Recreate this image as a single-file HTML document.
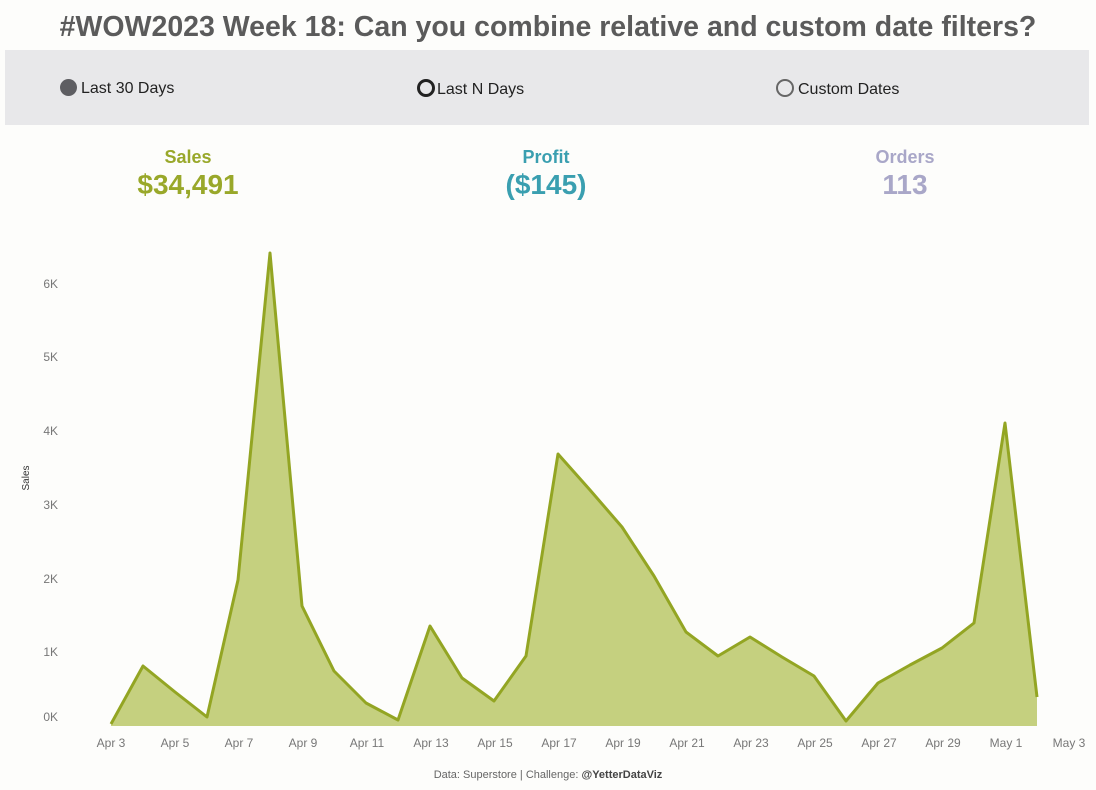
<!DOCTYPE html>
<html><head><meta charset="utf-8"><style>
body{margin:0;width:1096px;height:790px;background:#fdfdfb;font-family:"Liberation Sans",sans-serif;position:relative;overflow:hidden}
.t{position:absolute;left:0;width:1096px;text-align:center;top:11px;font-size:28.5px;font-weight:bold;color:#5b5b5b}
.panel{position:absolute;left:5px;top:50px;width:1084px;height:75px;background:#e8e8ea}
.r{position:absolute;top:79px;font-size:16px;color:#222}
.dot{display:inline-block;width:14px;height:14px;border-radius:50%;vertical-align:-2px;margin-right:4px;box-sizing:border-box}
.k{position:absolute;text-align:center;width:240px}
.k .a{font-size:18px;font-weight:bold}
.k .b{font-size:28px;font-weight:bold;margin-top:1px}
</style></head><body>
<div class="t">#WOW2023 Week 18: Can you combine relative and custom date filters?</div>
<div class="panel"></div>
<div class="r" style="left:60px"><span class="dot" style="background:#5e5e62;width:17px;height:17px;vertical-align:-3px"></span>Last 30 Days</div>
<div class="r" style="left:417px"><span class="dot" style="border:3px solid #222;width:18px;height:18px;vertical-align:-3px;margin-right:2px"></span>Last N Days</div>
<div class="r" style="left:776px"><span class="dot" style="border:2px solid #666;width:18px;height:18px;vertical-align:-3px;margin-right:4px"></span>Custom Dates</div>
<div class="k" style="left:68px;top:147px"><div class="a" style="color:#99a82a">Sales</div><div class="b" style="color:#99a82a">$34,491</div></div>
<div class="k" style="left:426px;top:147px"><div class="a" style="color:#3a9fb0">Profit</div><div class="b" style="color:#3a9fb0">($145)</div></div>
<div class="k" style="left:785px;top:147px"><div class="a" style="color:#a9a7c8">Orders</div><div class="b" style="color:#a9a7c8">113</div></div>
<svg width="1096" height="790" style="position:absolute;left:0;top:0" font-family="Liberation Sans" font-size="12" fill="#777">
<g text-anchor="end">
<text x="58" y="721">0K</text><text x="58" y="656">1K</text><text x="58" y="583">2K</text><text x="58" y="509">3K</text><text x="58" y="435">4K</text><text x="58" y="361">5K</text><text x="58" y="288">6K</text>
</g>
<text transform="translate(29,478) rotate(-90)" text-anchor="middle" font-size="10" fill="#333">Sales</text>
<polygon fill="#c5d07f" points="111,726 111,724 143,666 175,692 207,717 238,580 270,253 302,606 334,671 366,703 398,720 430,626 462,678 494,701 526,656 558,454 590,490 622,527 654,576 686,632 718,656 750,637 782,657 814,676 846,721 878,683 910,665 942,648 974,623 1005,423 1037,697 1037,726"/>
<polyline fill="none" stroke="#93a523" stroke-width="3" stroke-linejoin="round" points="111,724 143,666 175,692 207,717 238,580 270,253 302,606 334,671 366,703 398,720 430,626 462,678 494,701 526,656 558,454 590,490 622,527 654,576 686,632 718,656 750,637 782,657 814,676 846,721 878,683 910,665 942,648 974,623 1005,423 1037,697"/>
<g text-anchor="middle">
<text x="111" y="747">Apr 3</text><text x="175" y="747">Apr 5</text><text x="239" y="747">Apr 7</text><text x="303" y="747">Apr 9</text><text x="367" y="747">Apr 11</text><text x="431" y="747">Apr 13</text><text x="495" y="747">Apr 15</text><text x="559" y="747">Apr 17</text><text x="623" y="747">Apr 19</text><text x="687" y="747">Apr 21</text><text x="751" y="747">Apr 23</text><text x="815" y="747">Apr 25</text><text x="879" y="747">Apr 27</text><text x="943" y="747">Apr 29</text><text x="1006" y="747">May 1</text><text x="1069" y="747">May 3</text>
</g>
<text x="548" y="778" text-anchor="middle" font-size="11" fill="#666">Data: Superstore  |  Challenge: <tspan fill="#444" font-weight="bold">@YetterDataViz</tspan></text>
</svg>
</body></html>
